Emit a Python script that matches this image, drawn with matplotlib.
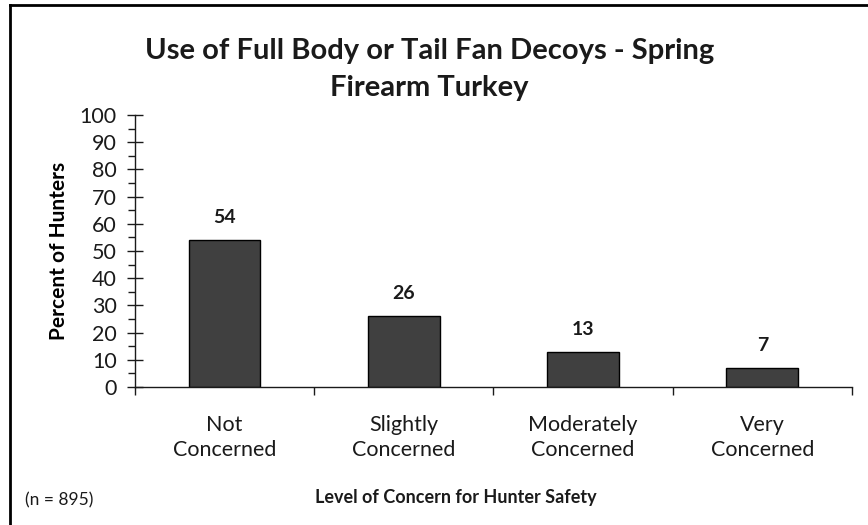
import matplotlib.pyplot as plt
import numpy as np
from matplotlib.lines import Line2D
from matplotlib.ticker import MultipleLocator

# data
categories = ["Not\nConcerned", "Slightly\nConcerned", "Moderately\nConcerned", "Very\nConcerned"]
percents = [54, 26, 13, 7]
title = "Use of Full Body or Tail Fan Decoys - Spring\nFirearm Turkey"
n_note = "(n = 895)"

plt.rcParams["font.family"] = ["Lato", "DejaVu Sans"]

fig = plt.figure(figsize=(8.68, 5.25), dpi=100)
ax = fig.add_axes([0.1555, 0.263, 0.826, 0.518])

x = np.arange(len(categories))
ax.bar(x, percents, width=0.4, color="#404040", edgecolor="black", linewidth=1)

for xi, v in zip(x, percents):
    ax.annotate(f"{v}", (xi, v), xytext=(0, 10), textcoords="offset points",
                ha="center", va="bottom", fontsize=14, fontweight="bold", color="#1a1a1a")

ax.set_xlim(-0.5, len(categories) - 0.5)
ax.set_ylim(0, 100)
ax.yaxis.set_major_locator(MultipleLocator(10))
ax.yaxis.set_minor_locator(MultipleLocator(5))
ax.tick_params(axis="y", which="major", direction="inout", length=12, width=1,
               labelsize=15.5, pad=7, colors="#1a1a1a")
ax.tick_params(axis="y", which="minor", direction="out", length=5, width=1, color="#1a1a1a")

# category labels in the middle, ticks on the boundaries
ax.set_xticks(x)
ax.set_xticklabels(categories, fontsize=15.5, color="#1a1a1a", linespacing=1.3)
ax.tick_params(axis="x", which="major", length=0, pad=20)
ax.set_xticks(np.arange(len(categories) + 1) - 0.5, minor=True)
ax.tick_params(axis="x", which="minor", direction="out", length=6, width=1, color="#1a1a1a")

for s in ["top", "right"]:
    ax.spines[s].set_visible(False)
for s in ["left", "bottom"]:
    ax.spines[s].set_color("#1a1a1a")
    ax.spines[s].set_linewidth(1)

ax.set_ylabel("Percent of Hunters", fontsize=15, fontweight="bold", labelpad=8)

fig.text(0.495, 0.868, title, ha="center", va="center", fontsize=21,
         fontweight="bold", linespacing=1.55, color="#1a1a1a")
fig.text(0.525, 0.052, "Level of Concern for Hunter Safety", ha="center", va="center",
         fontsize=13, fontweight="bold", color="#1a1a1a")
fig.text(0.029, 0.047, n_note, ha="left", va="center", fontsize=12.5, color="#1a1a1a")

# outer frame (only top and left visible in the reference)
fig.add_artist(Line2D([10 / 868, 1], [1 - 5 / 525, 1 - 5 / 525], transform=fig.transFigure,
                      color="black", linewidth=2))
fig.add_artist(Line2D([10 / 868, 10 / 868], [0, 1 - 5 / 525], transform=fig.transFigure,
                      color="black", linewidth=2))

fig.savefig("out.png", dpi=100)
